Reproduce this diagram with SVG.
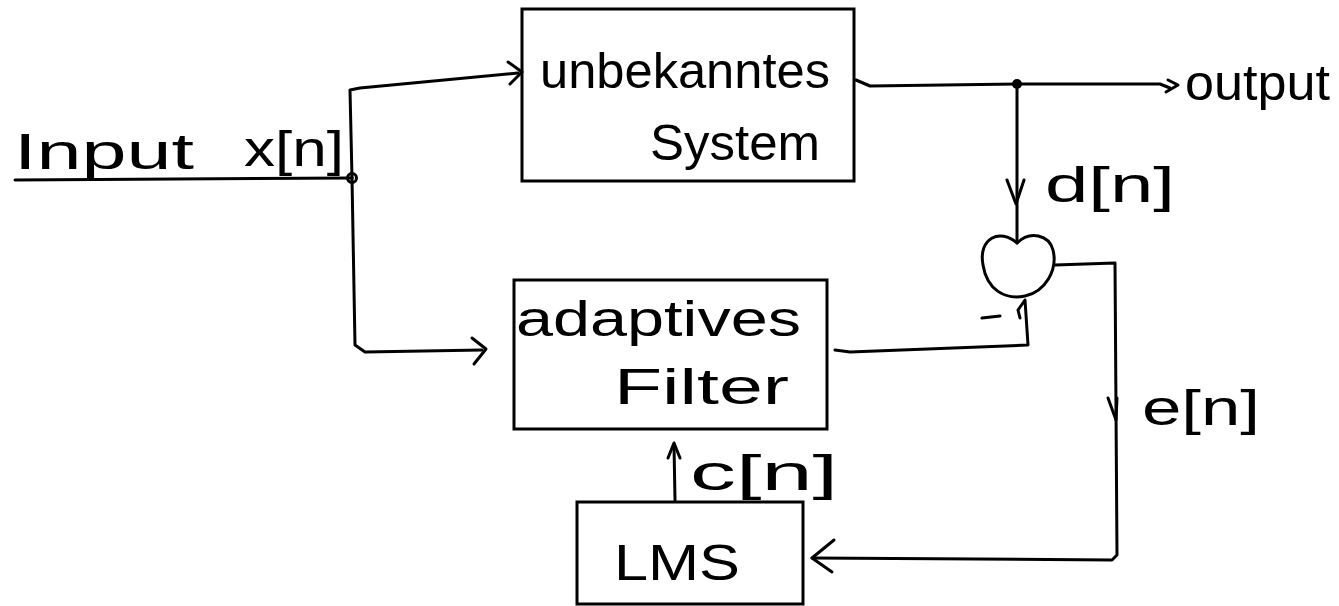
<svg xmlns="http://www.w3.org/2000/svg" width="1339" height="606" viewBox="0 0 1339 606">
<style>
.box{fill:none;stroke:#000;stroke-width:3}
.ln{fill:none;stroke:#000;stroke-width:3;stroke-linecap:round;stroke-linejoin:round}
.t{font-family:"Liberation Sans",Arial,sans-serif;fill:#000;font-size:50px}
</style>
<rect width="1339" height="606" fill="#fff"/>
<g id="input-label"><text class="t" x="14" y="169" font-size="58" textLength="180" lengthAdjust="spacingAndGlyphs">Input</text><text class="t" x="244" y="166" font-size="42" textLength="100" lengthAdjust="spacingAndGlyphs">x[n]</text></g>
<g id="unknown-system"><rect class="box" x="522" y="9" width="332" height="172"/><text class="t" x="540" y="88" textLength="290" lengthAdjust="spacingAndGlyphs">unbekanntes</text><text class="t" x="650" y="160" textLength="170" lengthAdjust="spacingAndGlyphs">System</text></g>
<g id="adaptive-filter"><rect class="box" x="514" y="280" width="313" height="149"/><text class="t" x="516" y="336" textLength="285" lengthAdjust="spacingAndGlyphs">adaptives</text><text class="t" x="614" y="404" textLength="175" lengthAdjust="spacingAndGlyphs">Filter</text></g>
<g id="lms"><rect class="box" x="577" y="502" width="226" height="102"/><text class="t" x="614" y="580" font-size="76" textLength="126" lengthAdjust="spacingAndGlyphs">LMS</text></g>
<g id="sum"><path class="ln" d="M1017,243 C1000,228 978,238 983,265 C987,290 1005,300 1025,296 C1045,292 1058,270 1053,250 C1049,235 1030,230 1017,243 Z"/><path class="ln" d="M982,318 L1000,316"/></g>
<g id="output-label"><text class="t" x="1185" y="100" font-size="46" textLength="145" lengthAdjust="spacingAndGlyphs">output</text></g>
<g id="d-label"><text class="t" x="1045" y="202" font-size="54" textLength="130" lengthAdjust="spacingAndGlyphs">d[n]</text></g>
<g id="e-label"><text class="t" x="1142" y="425" font-size="46" textLength="118" lengthAdjust="spacingAndGlyphs">e[n]</text></g>
<g id="c-label"><text class="t" x="690" y="490" font-size="46" textLength="148" lengthAdjust="spacingAndGlyphs">c[n]</text></g>
<g id="connectors">
<path class="ln" d="M15,180 L352,178"/>
<circle cx="352" cy="178" r="4.5" fill="none" stroke="#000" stroke-width="3"/>
<path class="ln" d="M352,178 L350,90 L360,88 L518,73"/>
<path class="ln" d="M508,62 L522,72 L510,84"/>
<path class="ln" d="M352,178 L355,345 L365,352 L482,350"/>
<path class="ln" d="M472,338 L486,349 L474,364"/>
<path class="ln" d="M856,80 L870,86 L1017,84 L1160,84 L1170,88"/>
<path class="ln" d="M1168,80 L1178,85 L1166,92"/>
<circle cx="1017" cy="84" r="5" fill="#000"/>
<path class="ln" d="M1017,84 L1017,243"/>
<path class="ln" d="M1007,180 L1016,204 L1024,180"/>
<path class="ln" d="M1055,265 L1115,263 L1117,555 L1112,560 L812,558"/>
<path class="ln" d="M1108,398 L1116,420 L1117,398"/>
<path class="ln" d="M834,540 L812,558 L832,572"/>
<path class="ln" d="M835,350 L850,352 L1028,345 L1025,300 L1018,310 L1020,318"/>
<path class="ln" d="M675,500 L674,445"/>
<path class="ln" d="M668,458 L674,443 L680,458"/>
</g>
</svg>
